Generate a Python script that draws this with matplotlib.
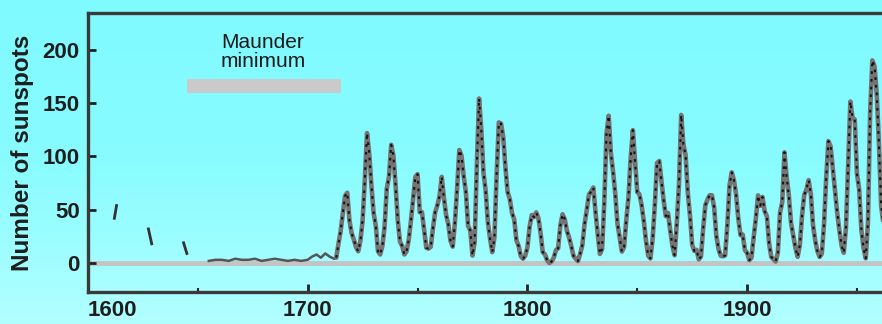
import numpy as np
import matplotlib
matplotlib.use("Agg")
import matplotlib.pyplot as plt
from matplotlib.colors import LinearSegmentedColormap

# Scattered early telescopic observations (year, sunspot number)
early_marks = [
    ([1612, 1613], [42, 54]),
    ([1627.5, 1629], [32, 18]),
    ([1643.5, 1645], [19, 9]),
]

# Maunder minimum period, sparse low counts
maunder_years = [1655, 1658, 1661, 1664, 1667, 1670, 1673, 1676, 1679, 1682,
                 1685, 1688, 1691, 1694, 1697, 1700, 1702, 1704, 1706, 1708,
                 1710, 1712]
maunder_values = [2, 3, 3, 2, 4, 3, 3, 4, 2, 3,
                  4, 3, 2, 3, 2, 3, 6, 8, 5, 9,
                  6, 4]

# Yearly sunspot numbers from 1713 onward
years = list(range(1713, 1964))
values = [
    5, 18, 30, 47, 63, 66, 40, 28, 22, 15, 11, 21, 40, 78, 122, 103, 73, 47,
    35, 11, 8, 16, 34, 70, 81, 111, 101, 73, 40, 20, 16, 8, 11, 22, 40, 60,
    80.9, 83.4, 47.7, 47.8, 30.7, 14.2, 13.6, 15.2, 32.4, 47.6, 54.0, 62.9,
    80.9, 61.2, 45.1, 36.4, 20.9, 15.4, 37.8, 69.8, 106.1, 100.8, 81.6, 66.5,
    34.8, 30.6, 7.0, 19.8, 92.5, 154.4, 125.9, 84.8, 68.1, 38.5, 22.8, 10.2,
    24.1, 82.9, 132.0, 130.9, 118.1, 89.9, 66.6, 60.0, 46.9, 41.0, 21.3, 16.0,
    6.4, 4.1, 6.8, 14.5, 34.0, 45.0, 43.1, 47.5, 42.2, 28.1, 10.1, 8.1, 2.5,
    0.0, 1.4, 5.0, 12.2, 13.9, 35.4, 45.8, 41.1, 30.1, 23.9, 15.6, 6.6, 4.0,
    1.8, 8.5, 16.6, 36.3, 49.6, 64.2, 67.0, 70.9, 47.8, 27.5, 8.5, 13.2, 56.9,
    121.5, 138.3, 103.2, 85.7, 64.6, 36.7, 24.2, 10.7, 15.0, 40.1, 61.5, 98.5,
    124.7, 96.3, 66.6, 64.5, 54.1, 39.0, 20.6, 6.7, 4.3, 22.7, 54.8, 93.8,
    95.8, 77.2, 59.1, 44.0, 47.0, 30.5, 16.3, 7.3, 37.6, 74.0, 139.0, 111.2,
    101.6, 66.2, 44.7, 17.0, 11.3, 12.4, 3.4, 6.0, 32.3, 54.3, 59.7, 63.7,
    63.5, 52.2, 25.4, 13.1, 6.8, 6.3, 7.1, 35.6, 73.0, 85.1, 78.0, 64.0, 41.8,
    26.2, 26.7, 12.1, 9.5, 2.7, 5.0, 24.4, 42.0, 63.5, 53.8, 62.0, 48.5, 43.9,
    18.6, 5.7, 3.6, 1.4, 9.6, 47.4, 57.1, 103.9, 80.6, 63.6, 37.6, 26.1, 14.2,
    5.8, 16.7, 44.3, 63.9, 69.0, 77.8, 64.9, 35.7, 21.2, 11.1, 5.7, 8.7, 36.1,
    79.7, 114.4, 109.6, 88.8, 67.8, 47.5, 30.6, 16.3, 9.6, 33.2, 92.6, 151.6,
    136.3, 134.7, 83.9, 69.4, 31.5, 13.9, 4.4, 38.0, 141.7, 190.2, 184.8,
    159.0, 112.3, 53.9, 37.5, 27.9,
]

yticks = [0, 50, 100, 150, 200]
xticks_major = [1600, 1700, 1800, 1900]
xticks_minor = [1650, 1750, 1850, 1950]
maunder_span = (1645, 1715)

plt.rcParams["font.family"] = ["Liberation Sans", "DejaVu Sans"]

fig = plt.figure(figsize=(8.82, 3.24), dpi=100)

# Cyan vertical gradient behind everything
bg = fig.add_axes([0, 0, 1, 1], zorder=-10)
grad = np.linspace(0, 1, 256).reshape(-1, 1)
cmap = LinearSegmentedColormap.from_list("cy", ["#7ffaff", "#88fcff", "#b2ffff"])
bg.imshow(grad, aspect="auto", cmap=cmap, extent=[0, 1, 0, 1], origin="upper")
bg.axis("off")

ax = fig.add_axes([88 / 882, 32 / 324, 1 - 88 / 882, 279 / 324])
ax.patch.set_alpha(0)
ax.set_xlim(1600, 1961.4)
ax.set_ylim(-27.2, 234.7)

# Zero reference line
ax.axhline(0, color="#c4c4c4", lw=3.5, zorder=1)

line_kw = dict(color="#747474", lw=3.3, solid_capstyle="round",
               solid_joinstyle="round", zorder=3)
dot_kw = dict(color="#151515", lw=1.5, dashes=(1.3, 2.4), zorder=4)

for xs, ys in early_marks:
    ax.plot(xs, ys, color="#333333", lw=2.0, zorder=3)

ax.plot(maunder_years + [years[0]], maunder_values + [values[0]],
        color="#555555", lw=1.8, zorder=3)
ax.plot(years, values, **line_kw)
ax.plot(years, values, **dot_kw)

# Maunder minimum annotation
ax.broken_barh([(maunder_span[0], maunder_span[1] - maunder_span[0])], (160, 13),
               facecolors="#cacaca", zorder=2)
ax.text(1679.7, 198, "Maunder\nminimum", ha="center", va="center",
        fontsize=15, color="#1a1a1a", linespacing=0.95)

ax.set_yticks(yticks)
ax.set_xticks(xticks_major)
ax.set_xticks(xticks_minor, minor=True)
ax.tick_params(axis="both", which="major", direction="in", length=6, width=2,
               color="#222222", labelsize=16, labelcolor="#1e1e1e", pad=6)
ax.tick_params(axis="x", which="minor", direction="in", length=3, width=1.5,
               color="#222222")
for lab in ax.get_xticklabels() + ax.get_yticklabels():
    lab.set_fontweight("bold")
ax.get_xticklabels()[0].set_horizontalalignment("left")

ax.set_ylabel("Number of sunspots", fontsize=17.5, fontweight="bold",
              color="#1e1e1e", labelpad=6)

ax.spines["right"].set_visible(False)
for side in ("left", "top", "bottom"):
    ax.spines[side].set_color("#3a3a3a")
    ax.spines[side].set_linewidth(2.4)

fig.savefig("out.png", dpi=100)
